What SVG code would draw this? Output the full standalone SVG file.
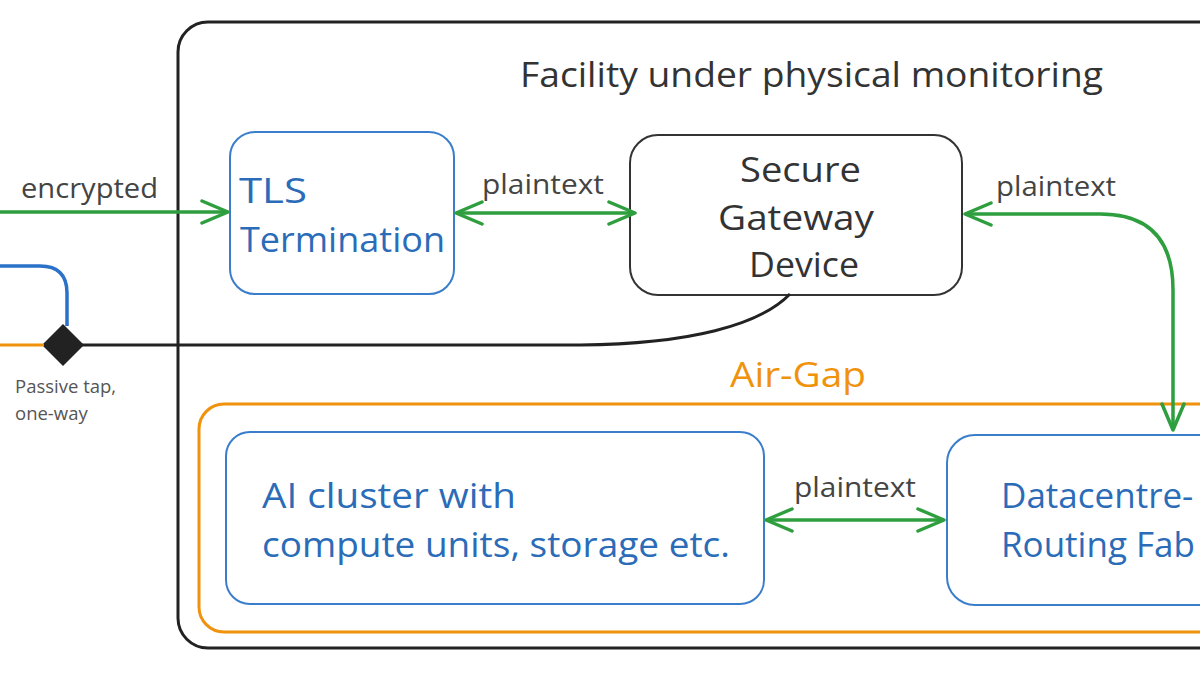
<svg xmlns="http://www.w3.org/2000/svg" width="1200" height="675" viewBox="0 0 1200 675">
<defs>
<marker id="arr" viewBox="0 0 30 26" refX="28" refY="13" markerWidth="30" markerHeight="26" markerUnits="userSpaceOnUse" orient="auto-start-reverse">
<path d="M2,2 L28,13 L2,24" fill="none" stroke="#2e9e3e" stroke-width="3.5" stroke-linecap="round" stroke-linejoin="round"/>
</marker>
<style>
.t{font-family:"Open Sans","Noto Sans",sans-serif}
.dark{fill:#333333}
.blue{fill:#2b6cb8}
.bbox{fill:#ffffff;stroke:#3a7ecb;stroke-width:2}
.g{fill:none;stroke:#2e9e3e;stroke-width:3.5}
.lbl{font-size:27px;fill:#444444}
.big{font-size:35px}
</style>
</defs>
<rect width="1200" height="675" fill="#ffffff"/>
<g id="facility">
<rect x="178" y="22" width="1060" height="626" rx="30" fill="none" stroke="#222222" stroke-width="3"/>
<text class="t dark" x="520" y="87" font-size="35" textLength="583" lengthAdjust="spacingAndGlyphs">Facility under physical monitoring</text>
</g>
<g id="airgap">
<rect x="199" y="404" width="1040" height="228" rx="25" fill="none" stroke="#f0920c" stroke-width="3"/>
<text class="t" x="730" y="387" font-size="34" fill="#f0920c" textLength="136" lengthAdjust="spacingAndGlyphs">Air-Gap</text>
</g>
<g id="tls">
<rect class="bbox" x="230" y="132" width="224" height="162" rx="25"/>
<text class="t blue big" x="239" y="203" textLength="68" lengthAdjust="spacingAndGlyphs">TLS</text>
<text class="t blue big" x="240" y="252" textLength="205" lengthAdjust="spacingAndGlyphs">Termination</text>
</g>
<g id="gateway">
<rect x="630" y="135" width="332" height="160" rx="28" fill="#ffffff" stroke="#333333" stroke-width="2"/>
<text class="t dark big" x="740" y="182" textLength="121" lengthAdjust="spacingAndGlyphs">Secure</text>
<text class="t dark big" x="718" y="230" textLength="156" lengthAdjust="spacingAndGlyphs">Gateway</text>
<text class="t dark big" x="749" y="277" textLength="110" lengthAdjust="spacingAndGlyphs">Device</text>
</g>
<g id="cluster">
<rect class="bbox" x="226" y="432" width="538" height="172" rx="24"/>
<text class="t blue big" x="262" y="508" textLength="254" lengthAdjust="spacingAndGlyphs">AI cluster with</text>
<text class="t blue big" x="262" y="557" textLength="468" lengthAdjust="spacingAndGlyphs">compute units, storage etc.</text>
</g>
<g id="fabric">
<rect class="bbox" x="947" y="435" width="300" height="170" rx="28"/>
<text class="t blue big" x="1001" y="508">Datacentre-</text>
<text class="t blue big" x="1001" y="557">Routing Fab</text>
</g>
<g id="tap">
<path d="M63,324 L84,345 L63,366 L42,345 Z" fill="#222222"/>
<text class="t" x="15" y="393" font-size="18.5" fill="#555555">Passive tap,</text>
<text class="t" x="15" y="420" font-size="18.5" fill="#555555">one-way</text>
</g>
<g id="connectors">
<path d="M0,266 L40,266 Q67,266 67,293 L67,326" fill="none" stroke="#2a72c8" stroke-width="3.5"/>
<path d="M0,345 L44,345" fill="none" stroke="#f0920c" stroke-width="3"/>
<path d="M82,345 L580,345 C690,344 760,325 790,294" fill="none" stroke="#222222" stroke-width="3"/>
<path class="g" d="M0,212 L228,212" marker-end="url(#arr)"/>
<path class="g" d="M456,213 L635,213" marker-start="url(#arr)" marker-end="url(#arr)"/>
<path class="g" d="M965,214 L1100,214 Q1173,214 1173,290 L1173,430" marker-start="url(#arr)" marker-end="url(#arr)"/>
<path class="g" d="M766,520 L944,520" marker-start="url(#arr)" marker-end="url(#arr)"/>
<text class="t lbl" x="21" y="198" textLength="137" lengthAdjust="spacingAndGlyphs">encrypted</text>
<text class="t lbl" x="482" y="194" textLength="122" lengthAdjust="spacingAndGlyphs">plaintext</text>
<text class="t lbl" x="996" y="196" textLength="120" lengthAdjust="spacingAndGlyphs">plaintext</text>
<text class="t lbl" x="794" y="497" textLength="122" lengthAdjust="spacingAndGlyphs">plaintext</text>
</g>
</svg>
